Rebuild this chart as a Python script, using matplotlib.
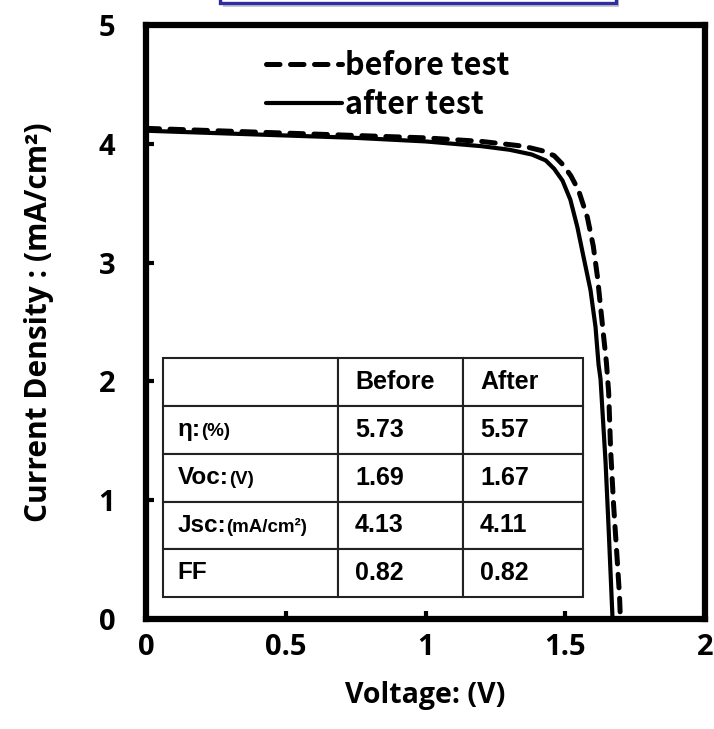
import matplotlib
matplotlib.use("Agg")
import matplotlib.pyplot as plt
from matplotlib.patches import Rectangle

# J-V curves (voltage in V, current density in mA/cm2)
v_before = [0, 0.25, 0.5, 0.75, 1.0, 1.2, 1.35, 1.42, 1.46, 1.493, 1.52, 1.547,
            1.579, 1.60, 1.615, 1.626, 1.637, 1.647, 1.655, 1.662, 1.673, 1.687,
            1.694, 1.697]
j_before = [4.13, 4.11, 4.09, 4.07, 4.05, 4.02, 3.98, 3.94, 3.90, 3.82, 3.73, 3.61,
            3.38, 3.14, 2.88, 2.63, 2.38, 2.16, 1.91, 1.43, 0.95, 0.45, 0.19, 0.0]

v_after = [0, 0.25, 0.5, 0.75, 1.0, 1.2, 1.3, 1.38, 1.43, 1.46, 1.49, 1.518, 1.543,
           1.565, 1.59, 1.608, 1.619, 1.626, 1.644, 1.655, 1.669]
j_after = [4.11, 4.09, 4.07, 4.05, 4.02, 3.98, 3.95, 3.91, 3.86, 3.79, 3.69, 3.53,
           3.30, 3.05, 2.77, 2.46, 2.14, 2.02, 1.32, 0.76, 0.0]

# summary table
col_labels = ["", "Before", "After"]
row_main = ["η:", "Voc:", "Jsc:", "FF"]
row_unit = ["(%)", "(V)", "(mA/cm²)", ""]
before_vals = ["5.73", "1.69", "4.13", "0.82"]
after_vals = ["5.57", "1.67", "4.11", "0.82"]

x_ticks = [0, 0.5, 1, 1.5, 2]
x_ticklabels = ["0", "0.5", "1", "1.5", "2"]
y_ticks = [0, 1, 2, 3, 4, 5]

LABEL_FONT = "Open Sans"
TABLE_FONT = "Liberation Sans"

fig = plt.figure(figsize=(7.14, 7.29), dpi=100)
ax = fig.add_axes([0.2045, 0.1509, 0.783, 0.8148])

ax.plot(v_before, j_before, color="black", lw=3.6, linestyle=(0, (2.7, 2.1)),
        dash_capstyle="round", label="before test")
ax.plot(v_after, j_after, color="black", lw=3.0, solid_capstyle="round",
        label="after test")

ax.set_xlim(0, 2)
ax.set_ylim(0, 5)
ax.set_xticks(x_ticks)
ax.set_xticklabels(x_ticklabels)
ax.set_yticks(y_ticks)

for s in ax.spines.values():
    s.set_linewidth(4.5)
ax.tick_params(direction="in", length=6, width=3, top=False, right=False)
ax.tick_params(axis="x", pad=10)
ax.tick_params(axis="y", pad=22)
for lab in ax.get_xticklabels() + ax.get_yticklabels():
    lab.set_fontfamily(LABEL_FONT)
    lab.set_fontweight("bold")
    lab.set_fontsize(21)

ax.set_xlabel("Voltage: (V)", fontfamily=LABEL_FONT, fontweight="bold", fontsize=20.5,
              labelpad=14)
ax.set_ylabel("Current Density : (mA/cm²)", fontfamily=LABEL_FONT, fontweight="bold",
              fontsize=21.5, labelpad=32)

leg = ax.legend(loc="upper left", bbox_to_anchor=(0.165, 1.005), frameon=False,
                prop={"family": "Noto Sans CJK JP", "weight": "bold", "size": 22},
                handlelength=2.5, handletextpad=0.1, labelspacing=0.25)

# parameter table; row labels are added below with a smaller unit part
tbl = ax.table(cellText=[["", before_vals[i], after_vals[i]]
                         for i in range(len(row_main))],
               colLabels=col_labels, colWidths=[0.417, 0.298, 0.286],
               cellLoc="left", colLoc="left", bbox=[0.030, 0.037, 0.752, 0.402])
tbl.auto_set_font_size(False)
fig.canvas.draw()
renderer = fig.canvas.get_renderer()
for (r, c), cell in tbl.get_celld().items():
    cell.set_linewidth(1.5)
    cell.set_edgecolor("#222222")
    w = cell.get_window_extent(renderer).width
    cell.PAD = 17.0 / w
    t = cell.get_text()
    t.set_fontfamily(TABLE_FONT)
    t.set_fontweight("bold")
    t.set_fontsize(18)

inv = fig.transFigure.inverted()
main_size = 17.5
for i in range(len(row_main)):
    bb = tbl[i + 1, 0].get_window_extent(renderer)
    base = (bb.y0 + bb.y1) / 2 - 0.34 * main_size * 100 / 72 + 2
    x0, y0 = inv.transform((bb.x0 + 15, base))
    main = fig.text(x0, y0, row_main[i], fontfamily=TABLE_FONT,
                    fontweight="bold", fontsize=main_size, va="baseline", ha="left")
    if row_unit[i]:
        mb = main.get_window_extent(renderer)
        xu, _ = inv.transform((mb.x1, 0))
        fig.text(xu, y0, row_unit[i], fontfamily=TABLE_FONT,
                 fontweight="bold", fontsize=13.5, va="baseline", ha="left")

# title banner edge at the top
fig.patches.append(Rectangle((0.312, 0.9905), 0.555, 0.1, transform=fig.transFigure,
                             facecolor="#c8c8c8", edgecolor="none", zorder=0))
fig.patches.append(Rectangle((0.308, 0.9955), 0.555, 0.1, transform=fig.transFigure,
                             facecolor="white", edgecolor="#2e2ea2", lw=2.4, zorder=1))

fig.savefig("out.png", dpi=100)
